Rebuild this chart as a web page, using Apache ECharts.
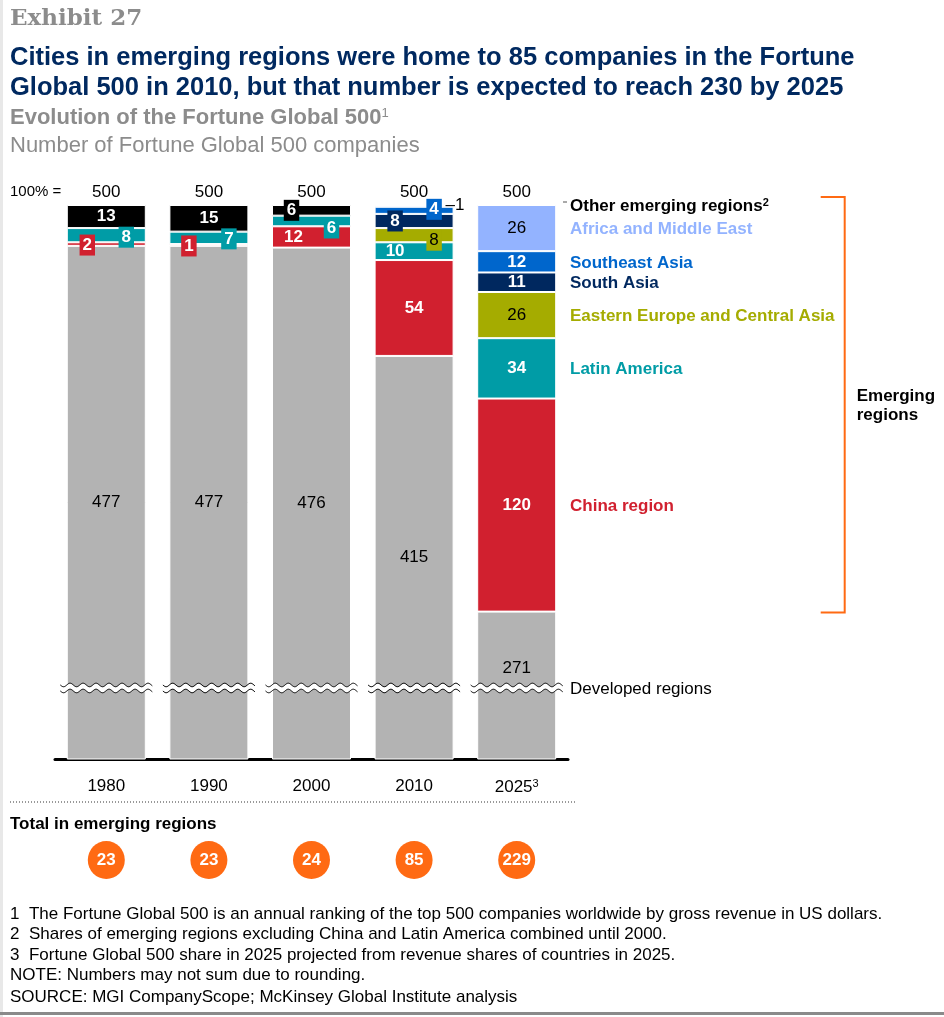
<!DOCTYPE html>
<html>
<head>
<meta charset="utf-8">
<script src="https://cdn.jsdelivr.net/npm/echarts@6/dist/echarts.min.js"></script>
<style>
html, body { margin: 0; padding: 0; background: #fff; }
#main { width: 944px; height: 1017px; }
</style>
</head>
<body>
<div id="main"></div>
<script>
// data
var years = ['1980', '1990', '2000', '2010', '2025'];
var developed = [477, 477, 476, 415, 271];
var china = [2, 1, 12, 54, 120];
var latinAmerica = [8, 7, 6, 10, 34];
var easternEurope = [0, 0, 0, 8, 26];
var southAsia = [0, 0, 0, 8, 11];
var southeastAsia = [0, 0, 0, 4, 12];
var africaMiddleEast = [0, 0, 0, 1, 26];
var otherEmerging = [13, 15, 6, 0, 0];
var totals = [500, 500, 500, 500, 500];
var emergingTotals = [23, 23, 24, 85, 229];

var FONT = '"Liberation Sans", Arial, sans-serif';
var FS = 17;
var C = {
    developed: '#b3b3b3',
    china: '#d1202f',
    latam: '#009ca6',
    eeca: '#a5ac00',
    southAsia: '#00285f',
    seAsia: '#0066cc',
    africa: '#93b3ff',
    other: '#000000',
    orange: '#ff6a13',
    navy: '#002960',
    grey: '#8c8c8c'
};
var breakAt = 228; // where the wavy break mark sits on the value axis

var dom = document.getElementById('main');
var myChart = echarts.init(dom);

function box(color, dx, dy, txt, weight) {
    return { offset: [dx, dy], backgroundColor: color, padding: [2, 3], color: txt || '#fff', fontWeight: weight || 'bold' };
}

function stackSeries(name, values, color, tweaks, base) {
    return {
        name: name,
        type: 'bar',
        stack: 'total',
        barWidth: 79,
        itemStyle: { color: color, borderColor: '#fff', borderWidth: 1 },
        label: Object.assign({
            show: true, position: 'inside', color: '#fff', fontWeight: 'bold',
            fontSize: FS, fontFamily: FONT
        }, base || {}),
        data: values.map(function (v, i) {
            if (!v) return '-';
            var item = { value: v };
            if (tweaks && tweaks[i]) item.label = tweaks[i];
            return item;
        })
    };
}

// mid points of the 2025 segments for the labels on the right
var stack2025 = [developed, china, latinAmerica, easternEurope, southAsia, southeastAsia, africaMiddleEast];
var mids = [], run = 0;
stack2025.forEach(function (arr) { mids.push(run + arr[4] / 2); run += arr[4]; });

var rightLabels = [
    { text: 'China region', v: mids[1], color: C.china },
    { text: 'Latin America', v: mids[2], color: C.latam },
    { text: 'Eastern Europe and Central Asia', v: mids[3], color: C.eeca },
    { text: 'South Asia', v: mids[4], color: C.southAsia },
    { text: 'Southeast Asia', v: mids[5], color: C.seAsia },
    { text: 'Africa and Middle East', v: mids[6], color: C.africa },
    { text: 'Other emerging regions{s|2}', v: 500, color: '#000', dash: true },
    { text: 'Developed regions', v: breakAt, color: '#000', normal: true }
];

option = {
    animation: false,
    backgroundColor: '#fff',
    grid: [
        { left: 55, width: 513, top: 205, height: 554 },
        { left: 55, width: 513, top: 842, height: 36 }
    ],
    xAxis: [{
        type: 'category',
        data: years,
        gridIndex: 0,
        axisLine: { lineStyle: { color: '#000', width: 3 } },
        axisTick: { show: false },
        axisLabel: {
            fontSize: FS, color: '#000', fontFamily: FONT, margin: 19,
            formatter: function (v) { return v === '2025' ? v + '{s|3}' : v; },
            rich: { s: { fontSize: 11, verticalAlign: 'top', padding: [0, 0, 8, 0], fontFamily: FONT, color: '#000' } }
        }
    }, {
        type: 'category',
        data: years,
        gridIndex: 1,
        show: false
    }],
    yAxis: [{
        type: 'value', min: 188, max: 500, gridIndex: 0, show: false,
        splitLine: { show: false }
    }, {
        type: 'value', min: -1, max: 1, gridIndex: 1, show: false,
        splitLine: { show: false }
    }],
    series: [
        stackSeries('Developed regions', developed, C.developed,
            { 4: { offset: [0, -17] } },
            { color: '#000', fontWeight: 'normal' }),
        stackSeries('China region', china, C.china, {
            0: box(C.china, -19, 1),
            1: box(C.china, -20, 1),
            2: { offset: [-18, 0] }
        }),
        stackSeries('Latin America', latinAmerica, C.latam, {
            0: box(C.latam, 20, 2),
            1: box(C.latam, 20, 1),
            2: box(C.latam, 20, 7),
            3: { offset: [-19, 0] }
        }),
        stackSeries('Eastern Europe and Central Asia', easternEurope, C.eeca, {
            3: box(C.eeca, 20, 5, '#000', 'normal'),
            4: { color: '#000', fontWeight: 'normal' }
        }),
        stackSeries('South Asia', southAsia, C.southAsia, {
            3: box(C.southAsia, -19, 0)
        }),
        stackSeries('Southeast Asia', southeastAsia, C.seAsia, {
            3: box(C.seAsia, 20, -1)
        }),
        stackSeries('Africa and Middle East', africaMiddleEast, C.africa, {
            3: { position: 'right', distance: -8, formatter: '\u2013{n|1}', color: '#000', fontWeight: 'normal', offset: [0, -1],
                 rich: { n: { fontSize: FS, fontFamily: FONT, color: '#000' } } },
            4: { color: '#000', fontWeight: 'normal' }
        }),
        stackSeries('Other emerging regions', otherEmerging, C.other, {
            2: box(C.other, -20, 0)
        }),
        // wavy break marks
        {
            type: 'custom', silent: true, z: 5,
            data: years.map(function (y, i) { return [i, breakAt]; }),
            renderItem: function (params, api) {
                var p = api.coord([api.value(0), api.value(1)]);
                var w = 92, x0 = p[0] - w / 2, top = [], bot = [];
                for (var k = 0; k <= w; k += 1) {
                    var dy = 1.8 * Math.sin(k / 13 * 2 * Math.PI);
                    top.push([x0 + k, p[1] - 3 + dy]);
                    bot.push([x0 + k, p[1] + 3 + dy]);
                }
                return {
                    type: 'group', children: [
                        { type: 'polygon', shape: { points: top.concat(bot.slice().reverse()) }, style: { fill: '#fff' } },
                        { type: 'polyline', shape: { points: top }, style: { stroke: '#000', lineWidth: 1, fill: null } },
                        { type: 'polyline', shape: { points: bot }, style: { stroke: '#000', lineWidth: 1, fill: null } }
                    ]
                };
            }
        },
        // 500 totals above bars
        {
            type: 'custom', silent: true, z: 6,
            data: totals.map(function (v, i) { return [i, v]; }),
            renderItem: function (params, api) {
                var p = api.coord([api.value(0), api.value(1)]);
                return {
                    type: 'text',
                    style: { text: String(totals[params.dataIndex]), x: p[0], y: p[1] - 13, align: 'center', verticalAlign: 'middle', font: FS + 'px ' + FONT, fill: '#000' }
                };
            }
        },
        // labels on the right of the 2025 bar
        {
            type: 'custom', silent: true, z: 6,
            data: rightLabels.map(function (d) { return [4, d.v]; }),
            renderItem: function (params, api) {
                var d = rightLabels[params.dataIndex];
                var p = api.coord([api.value(0), api.value(1)]);
                var x = p[0] + api.size([1, 0])[0] / 2 + 2;
                var kids = [{
                    type: 'text',
                    style: {
                        text: d.text, x: x, y: p[1] + 1, align: 'left', verticalAlign: 'middle',
                        font: (d.normal ? '' : 'bold ') + FS + 'px ' + FONT, fill: d.color,
                        rich: { s: { fontSize: 11, fontWeight: 'bold', fontFamily: FONT, fill: d.color, verticalAlign: 'top', padding: [0, 0, 7, 0] } }
                    }
                }];
                if (d.dash) {
                    kids.push({ type: 'line', shape: { x1: x - 7, y1: p[1] - 3, x2: x - 3, y2: p[1] - 3 }, style: { stroke: '#555', lineWidth: 1 } });
                }
                return { type: 'group', children: kids };
            }
        },
        // orange bracket for emerging regions
        {
            type: 'custom', silent: true, z: 6,
            data: [[4, 500, developed[4]]],
            renderItem: function (params, api) {
                var a = api.coord([api.value(0), api.value(1)]);
                var b = api.coord([api.value(0), api.value(2)]);
                var xr = a[0] + 328, xl = xr - 24, y0 = a[1] - 8, y1 = b[1] + 1;
                return {
                    type: 'group', children: [
                        { type: 'polyline', shape: { points: [[xl, y0], [xr, y0], [xr, y1], [xl, y1]] }, style: { stroke: C.orange, lineWidth: 2, fill: null } },
                        { type: 'text', style: { text: 'Emerging\nregions', x: xr + 12, y: (y0 + y1) / 2 + 1, align: 'left', verticalAlign: 'middle', font: 'bold ' + FS + 'px ' + FONT, fill: '#000', lineHeight: 19 } }
                    ]
                };
            }
        },
        // totals in emerging regions
        {
            type: 'scatter',
            xAxisIndex: 1, yAxisIndex: 1,
            symbol: 'circle', symbolSize: [37, 38],
            itemStyle: { color: C.orange, opacity: 1 },
            label: { show: true, position: 'inside', color: '#fff', fontWeight: 'bold', fontSize: FS, fontFamily: FONT,
                     formatter: function (p) { return emergingTotals[p.dataIndex]; } },
            data: emergingTotals.map(function (v, i) { return [i, 0]; })
        }
    ],
    graphic: [
        { type: 'rect', left: 0, top: 0, shape: { width: 3, height: 1017 }, style: { fill: '#e8e8e8' } },
        { type: 'rect', left: 0, top: 1012, shape: { width: 944, height: 3 }, style: { fill: '#8a8a8a' } },
        { type: 'text', left: 10, top: 8, style: { text: 'Exhibit 27', font: 'bold 23px "DejaVu Serif", Georgia, serif', fill: C.grey } },
        { type: 'text', left: 10, top: 43, style: { text: 'Cities in emerging regions were home to 85 companies in the Fortune\nGlobal 500 in 2010, but that number is expected to reach 230 by 2025', font: 'bold 25.5px ' + FONT, fill: C.navy, lineHeight: 30 } },
        { type: 'text', left: 10, top: 107, style: { text: 'Evolution of the Fortune Global 500{s|1}', font: 'bold 22px ' + FONT, fill: C.grey,
            rich: { s: { fontSize: 13, fill: C.grey, fontFamily: FONT, verticalAlign: 'top', padding: [0, 0, 9, 0] } } } },
        { type: 'text', left: 10, top: 135, style: { text: 'Number of Fortune Global 500 companies', font: '22px ' + FONT, fill: C.grey } },
        { type: 'text', left: 10, top: 184, style: { text: '100% =', font: '15px ' + FONT, fill: '#000' } },
        { type: 'line', shape: { x1: 10, y1: 802, x2: 576, y2: 802 }, style: { stroke: '#999', lineWidth: 2, lineDash: [1, 2] } },
        { type: 'text', left: 10, top: 816, style: { text: 'Total in emerging regions', font: 'bold ' + FS + 'px ' + FONT, fill: '#000' } },
        { type: 'text', left: 10, top: 904, style: {
            text: '1  The Fortune Global 500 is an annual ranking of the top 500 companies worldwide by gross revenue in US dollars.\n' +
                  '2  Shares of emerging regions excluding China and Latin America combined until 2000.\n' +
                  '3  Fortune Global 500 share in 2025 projected from revenue shares of countries in 2025.\n' +
                  'NOTE: Numbers may not sum due to rounding.',
            font: '17px ' + FONT, fill: '#000', lineHeight: 20.5 } },
        { type: 'text', left: 10, top: 989, style: { text: 'SOURCE: MGI CompanyScope; McKinsey Global Institute analysis', font: '17px ' + FONT, fill: '#000' } }
    ]
};

if (option && typeof option === 'object') {
    myChart.setOption(option, true);
}
</script>
</body>
</html>
